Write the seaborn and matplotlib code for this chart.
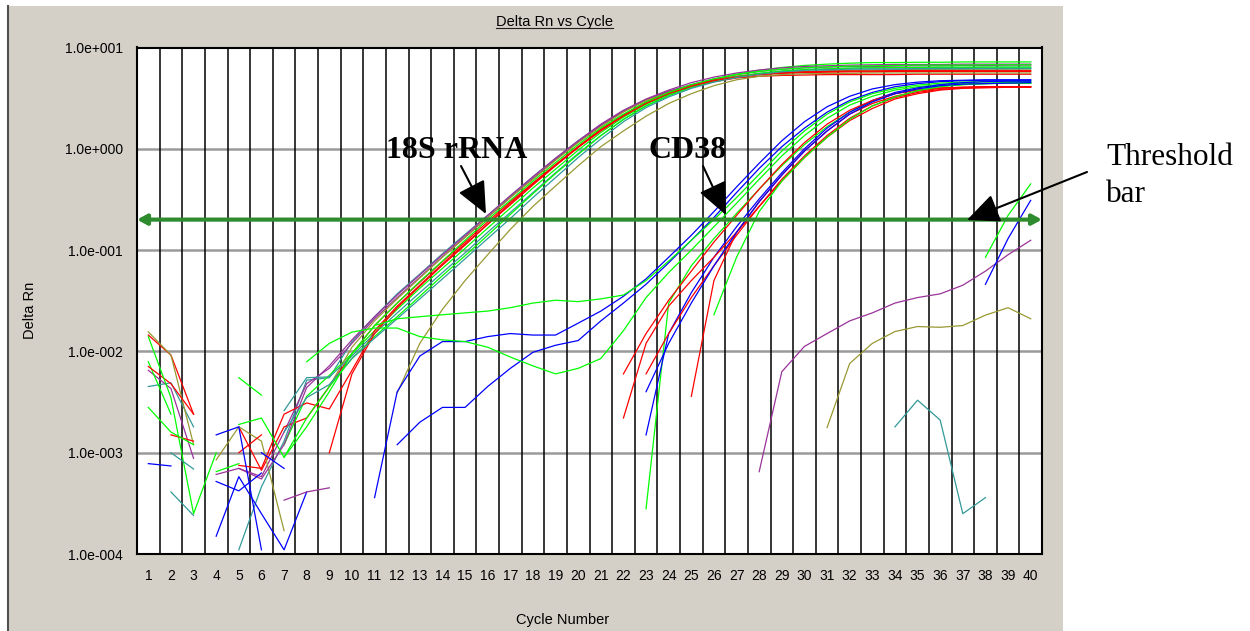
import numpy as np
import pandas as pd
import matplotlib
matplotlib.use('Agg')
import matplotlib.pyplot as plt
import seaborn as sns
from matplotlib.patches import Rectangle, FancyArrowPatch
from matplotlib.lines import Line2D
from matplotlib.transforms import IdentityTransform
from matplotlib.ticker import NullLocator

N = np.nan
cycles = list(range(1, 41))

# ---------------- 18S rRNA wells ----------------
s18_teal1 = [0.0045, 0.0049, 0.0018, N, 0.00011, 0.00046, 0.0013, 0.0052, 0.0055, 0.0125, 0.022, 0.037, 0.058, 0.092, 0.143, 0.22, 0.34, 0.53, 0.8, 1.2, 1.72, 2.37, 3.05, 3.7, 4.25, 4.75, 5.15, 5.45, 5.65, 5.8, 5.9, 5.95, 6.0, 6.05, 6.05, 6.1, 6.1, 6.15, 6.15, 6.2]
s18_purple1 = [0.0065, 0.0043, 0.00088, N, 0.0007, 0.00058, 0.0016, 0.0048, 0.0068, 0.012, 0.021, 0.034, 0.054, 0.086, 0.135, 0.21, 0.33, 0.51, 0.78, 1.17, 1.7, 2.35, 3.05, 3.7, 4.3, 4.9, 5.4, 5.8, 6.1, 6.3, 6.4, 6.5, 6.5, 6.55, 6.6, 6.6, 6.65, 6.65, 6.7, 6.7]
s18_red1 = [0.0145, 0.0092, 0.0024, N, 0.0018, 0.00067, 0.0018, 0.0022, 0.0045, 0.0095, 0.018, 0.03, 0.048, 0.077, 0.12, 0.19, 0.3, 0.46, 0.7, 1.05, 1.55, 2.15, 2.85, 3.5, 4.1, 4.6, 5.0, 5.2, 5.3, 5.35, 5.4, 5.4, 5.4, 5.4, 5.45, 5.45, 5.45, 5.45, 5.45, 5.45]
s18_green1 = [0.0079, 0.0024, N, 0.00065, 0.00078, N, 0.0012, 0.0036, 0.0058, 0.0095, 0.016, 0.026, 0.042, 0.066, 0.104, 0.165, 0.26, 0.41, 0.63, 0.97, 1.45, 2.05, 2.75, 3.45, 4.15, 4.85, 5.45, 5.95, 6.35, 6.65, 6.85, 7.0, 7.1, 7.1, 7.15, 7.15, 7.2, 7.2, 7.2, 7.2]
s18_olive1 = [0.0156, 0.0092, 0.0012, N, 0.0018, 0.0013, 0.00017, N, 0.0045, 0.011, 0.02, 0.033, 0.053, 0.085, 0.133, 0.21, 0.33, 0.5, 0.77, 1.15, 1.65, 2.3, 3.0, 3.6, 4.2, 4.7, 5.1, 5.4, 5.6, 5.75, 5.85, 5.9, 5.95, 5.95, 6.0, 6.0, 6.0, 6.0, 6.0, 6.0]
s18_red2 = [0.0071, 0.0048, 0.0024, N, 0.00075, 0.0007, 0.0024, 0.0031, 0.0027, 0.0065, 0.016, 0.028, 0.045, 0.073, 0.115, 0.18, 0.29, 0.45, 0.69, 1.05, 1.55, 2.15, 2.9, 3.6, 4.25, 4.8, 5.2, 5.5, 5.65, 5.75, 5.8, 5.85, 5.85, 5.9, 5.9, 5.9, 5.9, 5.9, 5.9, 5.9]
s18_purple2 = [N, N, N, 0.00061, 0.0007, 0.00055, 0.0012, 0.0044, 0.0072, 0.013, 0.022, 0.036, 0.057, 0.09, 0.14, 0.22, 0.345, 0.53, 0.81, 1.2, 1.75, 2.4, 3.1, 3.8, 4.5, 5.1, 5.6, 6.0, 6.3, 6.5, 6.6, 6.7, 6.75, 6.8, 6.8, 6.8, 6.85, 6.85, 6.85, 6.85]
s18_teal2 = [N, 0.00041, 0.00024, N, N, N, 0.0026, 0.0055, 0.0056, 0.009, 0.015, 0.024, 0.038, 0.06, 0.094, 0.15, 0.235, 0.37, 0.58, 0.9, 1.35, 1.95, 2.65, 3.35, 4.05, 4.65, 5.15, 5.55, 5.85, 6.05, 6.15, 6.25, 6.3, 6.3, 6.35, 6.35, 6.35, 6.4, 6.4, 6.4]
s18_green2 = [0.014, 0.0035, 0.00025, 0.001, N, N, 0.0009, 0.0022, 0.0045, 0.0085, 0.014, 0.022, 0.035, 0.056, 0.088, 0.14, 0.225, 0.36, 0.57, 0.88, 1.35, 1.95, 2.65, 3.35, 4.05, 4.65, 5.15, 5.55, 5.85, 6.05, 6.15, 6.25, 6.3, 6.35, 6.35, 6.4, 6.4, 6.4, 6.4, 6.4]
s18_red3 = [N, 0.0015, 0.0013, N, 0.001, 0.0015, N, N, 0.001, 0.006, 0.015, 0.027, 0.044, 0.071, 0.112, 0.18, 0.28, 0.44, 0.68, 1.03, 1.5, 2.1, 2.8, 3.5, 4.15, 4.7, 5.1, 5.4, 5.55, 5.65, 5.7, 5.75, 5.75, 5.8, 5.8, 5.8, 5.8, 5.8, 5.8, 5.8]
s18_teal3 = [N, 0.001, 0.00069, N, N, N, 0.0016, 0.0035, 0.0047, 0.0085, 0.0135, 0.021, 0.033, 0.052, 0.082, 0.13, 0.205, 0.33, 0.52, 0.82, 1.25, 1.85, 2.55, 3.25, 3.95, 4.55, 5.05, 5.45, 5.75, 5.95, 6.05, 6.1, 6.15, 6.15, 6.2, 6.2, 6.2, 6.2, 6.2, 6.2]
s18_green3 = [0.0028, 0.0016, 0.0012, N, 0.0019, 0.0022, 0.0009, 0.0018, 0.004, 0.0095, 0.018, 0.03, 0.049, 0.078, 0.125, 0.2, 0.31, 0.48, 0.73, 1.1, 1.6, 2.2, 2.9, 3.6, 4.3, 4.9, 5.4, 5.8, 6.1, 6.3, 6.45, 6.55, 6.6, 6.65, 6.7, 6.7, 6.7, 6.75, 6.75, 6.75]
s18_olive2 = [N, N, N, 0.00085, 0.0018, N, N, N, N, N, N, 0.0039, 0.012, 0.026, 0.05, 0.09, 0.16, 0.27, 0.43, 0.68, 1.05, 1.5, 2.1, 2.8, 3.5, 4.2, 4.8, 5.2, 5.4, 5.5, 5.55, 5.55, 5.6, 5.6, 5.6, 5.6, 5.6, 5.6, 5.6, 5.6]

# ---------------- CD38 wells ----------------
cd_blue1 = [N] * 10 + [0.00036, 0.004, 0.009, 0.0125, 0.0125, 0.014, 0.015, 0.0145, 0.0145, 0.019, 0.025, 0.035, 0.052, 0.085, 0.14, 0.24, 0.42, 0.72, 1.2, 1.85, 2.6, 3.3, 3.9, 4.3, 4.55, 4.7, 4.75, 4.8, 4.8, 4.8]
cd_blue2 = [N] * 11 + [0.0012, 0.002, 0.0028, 0.0028, 0.0045, 0.0068, 0.0098, 0.0115, 0.0128, 0.02, 0.03, 0.046, 0.075, 0.125, 0.21, 0.37, 0.64, 1.05, 1.6, 2.3, 3.0, 3.6, 4.1, 4.4, 4.6, 4.7, 4.75, 4.75, 4.75]
cd_green1 = [N] * 7 + [0.0079, 0.012, 0.0155, 0.017, 0.017, 0.014, 0.013, 0.0125, 0.011, 0.0088, 0.0072, 0.006, 0.0068, 0.0085, 0.016, 0.034, 0.06, 0.1, 0.17, 0.29, 0.5, 0.85, 1.35, 2.0, 2.7, 3.3, 3.8, 4.1, 4.3, 4.4, 4.45, 4.5, 4.5]
cd_green2 = [N] * 10 + [0.018, 0.021, 0.022, 0.023, 0.024, 0.025, 0.027, 0.03, 0.032, 0.031, 0.033, 0.036, 0.05, 0.078, 0.125, 0.2, 0.33, 0.56, 0.95, 1.5, 2.2, 2.9, 3.5, 3.95, 4.25, 4.45, 4.55, 4.6, 4.6, 4.6]
cd_green3 = [N] * 22 + [0.00028, 0.03, 0.07, 0.13, 0.23, 0.4, 0.68, 1.1, 1.65, 2.3, 2.95, 3.5, 3.9, 4.15, 4.3, 4.4, 4.45, 4.45]
cd_blue3 = [N] * 22 + [0.0015, 0.015, 0.038, 0.085, 0.17, 0.32, 0.58, 1.0, 1.6, 2.3, 3.0, 3.6, 4.0, 4.3, 4.5, 4.6, 4.65, 4.65]
cd_red1 = [N] * 21 + [0.0022, 0.012, 0.028, 0.05, 0.085, 0.15, 0.27, 0.48, 0.82, 1.3, 1.9, 2.5, 3.1, 3.5, 3.8, 3.95, 4.0, 4.05, 4.05]
cd_red2 = [N] * 24 + [0.0036, 0.05, 0.15, 0.3, 0.55, 0.95, 1.5, 2.2, 2.8, 3.3, 3.7, 3.95, 4.05, 4.1, 4.1, 4.1]
cd_red3 = [N] * 21 + [0.006, 0.015, 0.032, 0.062, 0.12, 0.22, 0.4, 0.7, 1.15, 1.75, 2.4, 3.0, 3.5, 3.8, 4.0, 4.05, 4.1, 4.1, 4.1]
cd_red4 = [N] * 22 + [0.006, 0.015, 0.034, 0.07, 0.14, 0.27, 0.5, 0.85, 1.35, 2.0, 2.65, 3.2, 3.6, 3.85, 4.0, 4.05, 4.1, 4.1]
cd_green4 = [N] * 25 + [0.023, 0.085, 0.24, 0.48, 0.82, 1.3, 1.95, 2.65, 3.25, 3.75, 4.1, 4.3, 4.4, 4.45, 4.45]
cd_blue4 = [N] * 22 + [0.004, 0.012, 0.03, 0.07, 0.15, 0.3, 0.55, 0.95, 1.5, 2.2, 2.9, 3.5, 3.9, 4.2, 4.35, 4.4, 4.45, 4.5]

# ---------------- late / noisy wells ----------------
purple_late = [N] * 27 + [0.00065, 0.0063, 0.0112, 0.015, 0.02, 0.024, 0.03, 0.034, 0.037, 0.045, 0.062, 0.09, 0.125]
olive_late = [N] * 30 + [0.00177, 0.0076, 0.012, 0.0157, 0.0176, 0.0173, 0.018, 0.0228, 0.027, 0.021]
teal_late = [N] * 33 + [0.0018, 0.0033, 0.0021, 0.00025, 0.00036, N, N]
green_late = [N] * 37 + [0.085, 0.22, 0.45]
blue_late = [N] * 37 + [0.046, 0.13, 0.31]
noise_blue1 = [0.00078, 0.00074, N, 0.00052, 0.00042, 0.00063] + [N] * 34
noise_blue2 = [N, N, N, 0.0015, 0.0018, 0.00011] + [N] * 34
noise_blue3 = [N, N, N, 0.00015, 0.00058, 0.00025, 0.00011, 0.00041] + [N] * 32
noise_blue4 = [N] * 5 + [0.001, 0.0007] + [N] * 33
noise_green = [N] * 4 + [0.0055, 0.0037] + [N] * 34
noise_purple = [N] * 6 + [0.00034, 0.00041, 0.00045] + [N] * 31

RED, GREEN, BLUE = '#ff0000', '#00ff00', '#0000ff'
PURPLE, TEAL, OLIVE = '#993399', '#339999', '#999933'

wells = [
    ('s18_teal1', TEAL, s18_teal1), ('s18_purple1', PURPLE, s18_purple1),
    ('s18_red1', RED, s18_red1), ('s18_green1', GREEN, s18_green1),
    ('s18_olive1', OLIVE, s18_olive1), ('s18_red2', RED, s18_red2),
    ('s18_purple2', PURPLE, s18_purple2), ('s18_teal2', TEAL, s18_teal2),
    ('s18_green2', GREEN, s18_green2), ('s18_red3', RED, s18_red3),
    ('s18_teal3', TEAL, s18_teal3), ('s18_green3', GREEN, s18_green3),
    ('s18_olive2', OLIVE, s18_olive2),
    ('cd_blue1', BLUE, cd_blue1), ('cd_blue2', BLUE, cd_blue2),
    ('cd_green1', GREEN, cd_green1), ('cd_green2', GREEN, cd_green2),
    ('cd_green3', GREEN, cd_green3), ('cd_blue3', BLUE, cd_blue3),
    ('cd_red1', RED, cd_red1), ('cd_red2', RED, cd_red2),
    ('cd_red3', RED, cd_red3), ('cd_red4', RED, cd_red4),
    ('cd_green4', GREEN, cd_green4), ('cd_blue4', BLUE, cd_blue4),
    ('purple_late', PURPLE, purple_late), ('olive_late', OLIVE, olive_late),
    ('teal_late', TEAL, teal_late), ('green_late', GREEN, green_late),
    ('blue_late', BLUE, blue_late), ('noise_blue1', BLUE, noise_blue1),
    ('noise_blue2', BLUE, noise_blue2), ('noise_blue3', BLUE, noise_blue3),
    ('noise_blue4', BLUE, noise_blue4), ('noise_green', GREEN, noise_green),
    ('noise_purple', PURPLE, noise_purple),
]

threshold = 0.2
ytick_vals = [1e-4, 1e-3, 1e-2, 1e-1, 1e0, 1e1]
ytick_labels = ['1.0e-004', '1.0e-003', '1.0e-002', '1.0e-001', '1.0e+000', '1.0e+001']

# Build long-form table, splitting each well at gaps (non-positive readings)
rows = []
palette = {}
for name, color, vals in wells:
    k = 0
    started = False
    for c, v in zip(cycles, vals):
        if np.isnan(v):
            if started:
                k += 1
                started = False
            continue
        seg = f'{name}_{k}'
        palette[seg] = color
        rows.append((c, v, seg))
        started = True
df = pd.DataFrame(rows, columns=['cycle', 'dRn', 'seg'])

W, H = 1250, 631
plt.rcParams['font.family'] = ['Liberation Sans', 'DejaVu Sans']
fig = plt.figure(figsize=(W / 100, H / 100), dpi=100)
fig.patch.set_facecolor('white')

# gray instrument panel
fig.add_artist(Rectangle((7 / W, 0), (1063 - 7) / W, (H - 6) / H, transform=fig.transFigure,
                         facecolor='#d4d0c8', edgecolor='none', zorder=-2))
fig.add_artist(Line2D([7.5 / W, 7.5 / W], [0, (H - 6) / H], transform=fig.transFigure,
                      color='#505050', lw=1.5, zorder=-1))

ax = fig.add_axes([137 / W, 1 - 554 / H, 905 / W, (554 - 47.5) / H])
ax.set_facecolor('white')

sns.lineplot(data=df, x='cycle', y='dRn', hue='seg', palette=palette, estimator=None,
             legend=False, linewidth=0.9, sort=False, ax=ax, zorder=2)

ax.set_yscale('log')
ax.set_ylim(1e-4, 10)
ax.set_xlim(0.5, 40.5)
ax.set_xticks(cycles)
ax.set_xticklabels([str(c) for c in cycles])
ax.set_yticks(ytick_vals)
ax.set_yticklabels(ytick_labels)
ax.yaxis.set_minor_locator(NullLocator())
ax.xaxis.set_minor_locator(NullLocator())
ax.tick_params(axis='both', length=0, labelsize=10, colors='black')
ax.tick_params(axis='x', pad=11)
ax.tick_params(axis='y', pad=10)
ax.set_xlabel('')
ax.set_ylabel('')

for xv in np.arange(0.5, 41, 1.0):
    ax.axvline(xv, color='black', lw=1.1, zorder=0.6)
for yv in ytick_vals:
    ax.axhline(yv, color='#9a9a9a', lw=1.8, zorder=0.5)
for sp in ax.spines.values():
    sp.set_color('black')
    sp.set_linewidth(1.5)

# threshold bar
ax.annotate('', xy=(0.5, threshold), xytext=(40.5, threshold), xycoords='data',
            arrowprops=dict(arrowstyle='<|-|>,head_length=0.55,head_width=0.3', color='#2e8b2e',
                            lw=3, mutation_scale=10, shrinkA=0, shrinkB=0),
            annotation_clip=False, zorder=5)

# texts
fig.text(554 / W, 1 - 22 / H, 'Delta Rn vs Cycle', ha='center', va='center', fontsize=10.5)
fig.text(30 / W, 1 - 310 / H, 'Delta Rn', rotation=90, ha='center', va='center', fontsize=10.5)
fig.text(563 / W, 1 - 620 / H, 'Cycle Number', ha='center', va='center', fontsize=10.5)

serif = ['Liberation Serif', 'DejaVu Serif']
fig.text(386 / W, 1 - 158 / H, '18S rRNA', family=serif, fontweight='bold', fontsize=23,
         ha='left', va='baseline')
fig.text(649 / W, 1 - 158 / H, 'CD38', family=serif, fontweight='bold', fontsize=23,
         ha='left', va='baseline')
fig.text(1106 / W, 1 - 165 / H, 'Threshold', family=serif, fontsize=22.5, ha='left', va='baseline')
fig.text(1106 / W, 1 - 202 / H, 'bar', family=serif, fontsize=22.5, ha='left', va='baseline')

def px(x, y):
    return (x, H - y)

for (x0, y0), (x1, y1) in [((461, 166), (486, 214)), ((703, 166), (726, 215)),
                           ((1087, 172), (967, 220))]:
    fig.add_artist(FancyArrowPatch(px(x0, y0), px(x1, y1), transform=IdentityTransform(),
                                   arrowstyle='-|>,head_length=1.0,head_width=0.45',
                                   mutation_scale=20, lw=1.5, color='black',
                                   shrinkA=0, shrinkB=0, zorder=6))

# underline the title
fig.canvas.draw()
title_txt = [t for t in fig.texts if t.get_text() == 'Delta Rn vs Cycle'][0]
bb = title_txt.get_window_extent()
fig.add_artist(Line2D([bb.x0, bb.x1], [bb.y0 + 1, bb.y0 + 1], transform=IdentityTransform(),
                      color='#202020', lw=0.8))

fig.savefig('out.png', dpi=100, facecolor='white')
